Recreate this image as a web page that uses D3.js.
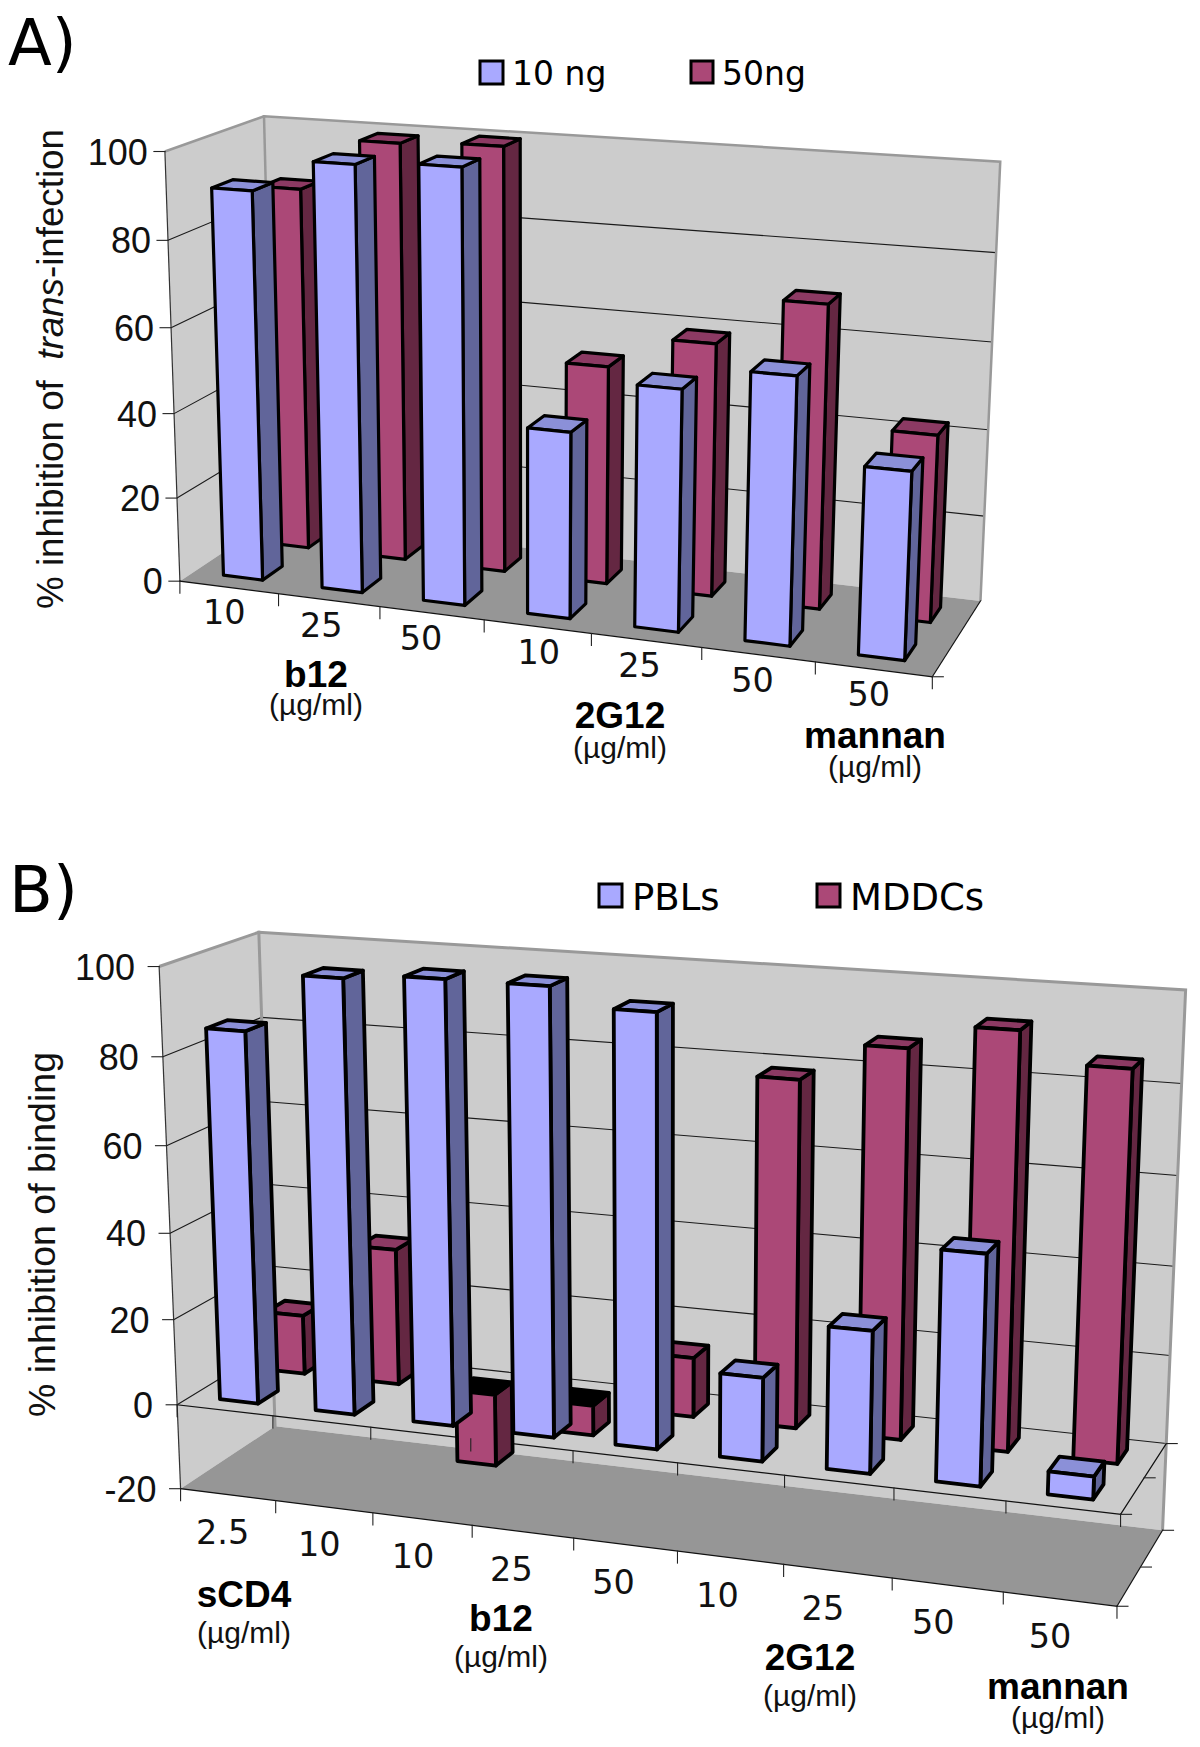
<!DOCTYPE html>
<html><head><meta charset="utf-8">
<style>html,body{margin:0;padding:0;background:#fff}svg{display:block}</style>
<script src="https://cdn.jsdelivr.net/npm/d3@7"></script></head>
<body><svg id="c" width="1200" height="1747"></svg>
<script>
// ---------- data ----------
const categoriesA = ["10","25","50","10","25","50","50"];
const series10ng = [91,98.5,99.5,42.8,54.8,60,41.8];
const series50ng = [86.8,99,99.8,51.3,58.8,69.8,42.8];
const seriesNamesA = ["10 ng","50ng"];
const yTicksA = [0,20,40,60,80,100];
const categoriesB = ["2.5","10","10","25","50","10","25","50","50"];
const seriesPBLs = [85.5,98.7,100,100,96,18.7,31.5,50.4,5];
const seriesMDDCs = [14,32,-17,-7,13.7,78.5,87,92.5,86];
const seriesNamesB = ["PBLs","MDDCs"];
const yTicksB = [-20,0,20,40,60,80,100];

// ---------- styles / layout ----------
const BLUE={front:"#a9a9ff",top:"#8b90d8",side:"#61659a",neg:"#000"};
const PINK={front:"#ab4877",top:"#8c3a63",side:"#642742",neg:"#000"};
const SANS="'Liberation Sans',Arial,sans-serif", VERD="'DejaVu Sans',Verdana,sans-serif";

function fitProjection(pts){
  // P(x,y,z) = (O + xA + yB + zC)/(1 + xp + yq + zr), least squares over the frame corners
  const rows=[],rhs=[];
  pts.forEach(([x,y,z,u,v])=>{
    rows.push([1,0,x,0,y,0,z,0,-u*x,-u*y,-u*z]);rhs.push(u);
    rows.push([0,1,0,x,0,y,0,z,-v*x,-v*y,-v*z]);rhs.push(v);
  });
  const n=11,M=d3.range(n).map(i=>d3.range(n+1).map(j=>
    d3.sum(rows,(r,k)=>r[i]*(j<n?r[j]:rhs[k]))));
  for(let i=0;i<n;i++){
    let p=i;for(let k=i+1;k<n;k++)if(Math.abs(M[k][i])>Math.abs(M[p][i]))p=k;
    [M[i],M[p]]=[M[p],M[i]];
    for(let k=0;k<n;k++)if(k!==i){const f=M[k][i]/M[i][i];for(let j=i;j<=n;j++)M[k][j]-=f*M[i][j];}
  }
  const s=M.map((r,i)=>r[n]/r[i]);
  return (x,y,z)=>{const w=1+x*s[8]+y*s[9]+z*s[10];
    return [(s[0]+x*s[2]+y*s[4]+z*s[6])/w,(s[1]+x*s[3]+y*s[5]+z*s[7])/w];};
}
const svg=d3.select("#c");
const line=d3.line();

function drawChart(cfg){
  const g=svg.append("g");
  const P=fitProjection(cfg.corners);
  const n=cfg.categories.length;
  const y=d3.scaleLinear().domain(cfg.yDomain).range([0,1]);
  const xB=d3.scaleBand().domain(d3.range(n)).range([0,1]).paddingInner(.6).paddingOuter(.3);
  const xEdge=d3.scaleLinear().domain([0,n]).range([0,1]);
  const zB=d3.scaleBand().domain(["front","back"]).range([0,1]).paddingInner(.58).paddingOuter(.29);
  const poly=(pts,fill,stroke,sw)=>g.append("path").attr("d",line(pts)+"Z").attr("fill",fill)
    .attr("stroke",stroke||"none").attr("stroke-width",sw||0).attr("stroke-linejoin","round");
  const seg=(a,b,stroke,sw)=>g.append("path").attr("d",line([a,b])).attr("fill","none")
    .attr("stroke",stroke).attr("stroke-width",sw).attr("stroke-linecap","square");

  // walls + floor
  poly([P(0,0,0),P(0,1,0),P(0,1,1),P(0,0,1)],"#cccccc");
  poly([P(0,0,1),P(0,1,1),P(1,1,1),P(1,0,1)],"#cccccc");
  poly([P(0,0,0),P(0,0,1),P(1,0,1),P(1,0,0)],"#969696");
  // gridlines
  cfg.yTicks.filter(t=>t>cfg.yDomain[0]&&t<cfg.yDomain[1]).forEach(t=>{
    g.append("path").attr("d",line([P(0,y(t),0),P(0,y(t),1),P(1,y(t),1)])).attr("fill","none")
      .attr("stroke","#1a1a1a").attr("stroke-width",1.1);
  });
  // frame
  g.append("path").attr("d",line([P(0,1,0),P(0,1,1),P(1,1,1),P(1,0,1)])).attr("fill","none")
    .attr("stroke","#999").attr("stroke-width",cfg.frameW).attr("stroke-linejoin","miter");
  seg(P(0,1,1),P(0,0,1),"#999",cfg.frameW);
  seg(P(0,1,0),P(0,0,0),"#333",1.2);
  // floor edges
  seg(P(0,0,0),P(1,0,0),"#111",1.2);
  seg(P(1,0,0),P(1,0,1),"#111",1.2);
  if(cfg.zeroPlane){
    const y0=y(0);
    seg(P(0,y0,0),P(1,y0,0),"#111",1.2);
    seg(P(1,y0,0),P(1,y0,1),"#111",1.2);
  }
  // bars: back series first, left to right
  const bar=(i,v,slot,col)=>{
    const x0=xB(i),x1=x0+xB.bandwidth(),z0=zB(slot),z1=z0+zB.bandwidth();
    const lo=y(Math.min(0,v)),hi=y(Math.max(0,v));
    const top=v<0?col.neg:col.top;
    poly([P(x1,lo,z0),P(x1,hi,z0),P(x1,hi,z1),P(x1,lo,z1)],col.side,"#000",cfg.barW);
    poly([P(x0,hi,z0),P(x0,hi,z1),P(x1,hi,z1),P(x1,hi,z0)],top,"#000",cfg.barW);
    poly([P(x0,lo,z0),P(x0,hi,z0),P(x1,hi,z0),P(x1,lo,z0)],col.front,"#000",cfg.barW);
  };
  cfg.back.forEach((v,i)=>bar(i,v,"back",PINK));
  cfg.front.forEach((v,i)=>bar(i,v,"front",BLUE));

  // category ticks
  const yBase=cfg.zeroPlane?[0,y(0)]:[0];
  yBase.forEach(yb=>{
    d3.range(n+1).forEach(i=>{
      const p=P(xEdge(i),yb,0);
      seg(p,[p[0],p[1]+cfg.tickLen],"#222",1.1);
    });
    (cfg.zeroPlane?[0,.5,1]:[0]).forEach(z=>{
      const p=P(1,yb,z);
      seg(p,[p[0]+cfg.tickLen-1,p[1]],"#222",1.1);
    });
  });
  // value ticks + labels
  cfg.yTicks.forEach(t=>{
    const p=P(0,y(t),0);
    seg(p,[p[0]-11,p[1]],"#222",1.1);
    g.append("text").attr("x",p[0]-cfg.yLabelGap).attr("y",p[1]+13).attr("text-anchor","end")
      .attr("font-family",SANS).attr("font-size",36).attr("fill","#111").text(t);
  });
  // category labels
  cfg.categories.forEach((c,i)=>{
    const a=P(xEdge(i),0,0),b=P(xEdge(i+1),0,0);
    g.append("text").attr("x",(a[0]+b[0])/2+cfg.catDx[i]).attr("y",(a[1]+b[1])/2+cfg.catDy)
      .attr("text-anchor","middle").attr("font-family",VERD).attr("font-size",33.5).attr("fill","#111").text(c);
  });
  // group labels
  cfg.groups.forEach(([name,cx,b1,b2])=>{
    g.append("text").attr("x",cx).attr("y",b1).attr("text-anchor","middle").attr("font-family",SANS)
      .attr("font-weight","bold").attr("font-size",37).attr("fill","#000").text(name);
    g.append("text").attr("x",cx).attr("y",b2).attr("text-anchor","middle").attr("font-family",SANS)
      .attr("font-size",30).attr("fill","#111").text("(\u00b5g/ml)");
  });
  // panel letter
  g.append("text").attr("x",cfg.letter[1]).attr("y",cfg.letter[2]).attr("font-family",VERD)
    .attr("font-size",64).attr("fill","#000").text(cfg.letter[0]);
  // legend
  cfg.legend.forEach(([name,col,sx,sy,tx,ty,sz,fs])=>{
    g.append("rect").attr("x",sx).attr("y",sy).attr("width",sz).attr("height",sz)
      .attr("fill",col.front).attr("stroke","#000").attr("stroke-width",3);
    g.append("text").attr("x",tx).attr("y",ty).attr("font-family",VERD).attr("font-size",fs)
      .attr("fill","#000").text(name);
  });
  // y title
  const t=g.append("text").attr("transform",`translate(${cfg.title.x},${cfg.title.y}) rotate(-90)`)
    .attr("font-family",SANS).attr("font-size",cfg.title.size).attr("fill","#111")
    .attr("textLength",cfg.title.len).attr("lengthAdjust","spacingAndGlyphs").attr("xml:space","preserve");
  cfg.title.parts.forEach(([s,it])=>t.append("tspan").attr("font-style",it?"italic":"normal").text(s));
}

drawChart({
  categories:categoriesA,front:series10ng,back:series50ng,yTicks:yTicksA,yDomain:[0,100],
  corners:[[0,0,0,182,581.7],[0,1,0,163,151],[0,0,1,272,518],[0,1,1,266,116.7],
           [1,0,1,981,601],[1,1,1,1000,161.7],[1,0,0,932,676.7]],
  frameW:2.5,barW:3.2,tickLen:12,yLabelGap:17,catDy:37,zeroPlane:false,
  catDx:[-5,-8,-11,1,-7,-6,-5],
  groups:[["b12",316,687,715],["2G12",620,728,758],["mannan",875,748,777]],
  letter:["A)",8,65],
  legend:[[seriesNamesA[0],BLUE,480,61,512,85,23,33],[seriesNamesA[1],PINK,691,61,722,85,22,33]],
  title:{x:63,y:609,len:480,size:37,parts:[["% inhibition of  ",false],["trans",true],["-infection",false]]}
});
drawChart({
  categories:categoriesB,front:seriesPBLs,back:seriesMDDCs,yTicks:yTicksB,yDomain:[-20,100],
  corners:[[0,0,0,182,1489],[0,1,0,158,966],[0,0,1,273.6,1426],[0,1,1,260,932.7],
           [1,0,1,1163,1530],[1,1,1,1185.5,990],[1,0,0,1116.6,1606.5]],
  frameW:3,barW:3.8,tickLen:12,yLabelGap:24,catDy:49,zeroPlane:true,
  catDx:[-5.5,-5,-9.5,-11.5,-12,-13,-15,-14.5,-10],
  groups:[["sCD4",244,1607,1643],["b12",501,1631,1667],["2G12",810,1670,1706],["mannan",1058,1699,1728]],
  letter:["B)",9,912],
  legend:[[seriesNamesB[0],BLUE,599,884,632,910,23,37],[seriesNamesB[1],PINK,817,884,850,910,23,37]],
  title:{x:55,y:1417,len:365,size:36,parts:[["% inhibition of binding",false]]}
});
</script></body></html>
